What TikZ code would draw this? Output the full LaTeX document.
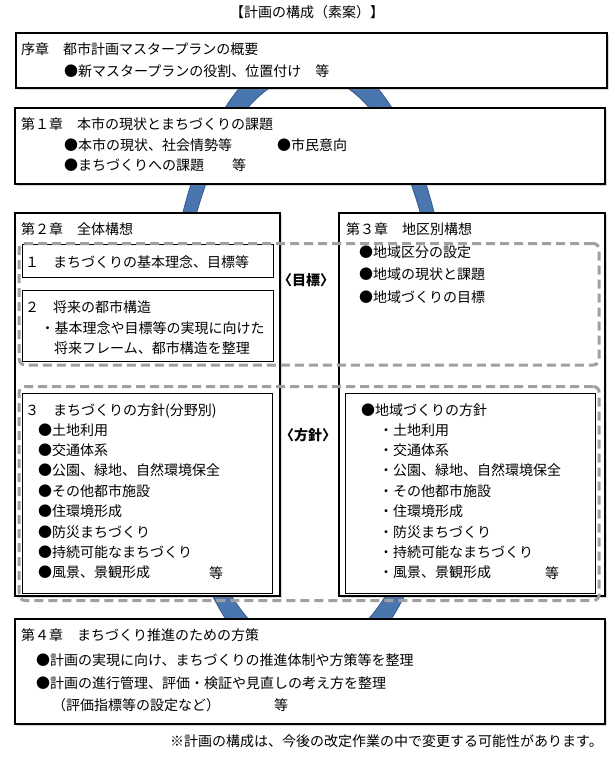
\documentclass[tikz,border=0pt]{standalone}
\usepackage{fontspec}
\setmainfont{Noto Sans CJK JP}
\usetikzlibrary{positioning}
\usetikzlibrary{shadows}
\definecolor{ringblue}{RGB}{74,118,176}
\definecolor{ringedge}{RGB}{52,88,138}
\definecolor{framegray}{RGB}{160,160,160}
\tikzset {
  % chapter frame with a soft shadow
  chapter box/.style = {
    draw = black,
    line width = 1.6pt,
    fill = white,
    rectangle,
    anchor = north west,
    inner sep = 0,
    drop shadow = {shadow xshift = 2pt, shadow yshift = -2pt, opacity = .3}
  },
  % box inside a chapter
  inner box/.style = {
    draw = black,
    line width = 1pt,
    fill = white,
    rectangle,
    anchor = north west,
    inner sep = 0
  },
  % grey dashed frame over both columns
  dashed band/.style = {
    draw = framegray,
    line width = 3pt,
    dash pattern = on 9pt off 5pt,
    rounded corners = 6pt,
    rectangle,
    anchor = north west,
    inner sep = 0
  },
  % one line of text
  txt/.style = {
    anchor = west,
    inner sep = 0,
    text height = 12pt,
    text depth = 2pt,
    font = \fontsize{14pt}{17pt}\selectfont
  },
  % label between the columns
  tag/.style = {
    txt,
    anchor = center,
    font = \fontsize{14pt}{17pt}\selectfont\bfseries
  },
  node distance = 20.4pt
}

\begin{document}
\begin{tikzpicture}[x=1pt, y=-1pt]
    \useasboundingbox (0,0) rectangle (614,760);
    \fill[white] (0,0) rectangle (614,760);

    % the cycle ring behind the chapters
    \path[draw = ringedge, fill = ringblue, line width = 0.8pt, even odd rule]
    (308.5,363) ellipse [x radius = 143pt, y radius = 314pt]
    (308.5,363) ellipse [x radius = 131pt, y radius = 288pt];

    \node[txt, anchor=center] (title) at (307,13) {【計画の構成（素案）】};

    \node[chapter box, minimum width=591pt, minimum height=55pt] (intro) at (15,32) {};
    \node[chapter box, minimum width=590pt, minimum height=76pt] (now) at (14,107) {};
    \node[chapter box, minimum width=265pt, minimum height=383pt] (whole) at (14,212) {};
    \node[chapter box, minimum width=266pt, minimum height=383pt] (area) at (338,212) {};
    \node[chapter box, minimum width=590pt, minimum height=105pt] (act) at (14,618) {};

    \node[inner box, minimum width=251pt, minimum height=33pt] (idea) at (21.7,244) {};
    \node[inner box, minimum width=251pt, minimum height=71pt] (frame) at (21.7,290) {};
    \node[inner box, minimum width=250pt, minimum height=200pt] (policy) at (21.7,393) {};
    \node[inner box, minimum width=249.5pt, minimum height=200pt] (district) at (345,393) {};

    \node[dashed band, minimum width=580pt, minimum height=121.5pt] (goal-band) at (17.7,242) {};
    \node[dashed band, minimum width=580pt, minimum height=214pt] (policy-band) at (17.7,385) {};

    \node[txt] (intro-head) at (21,50) {序章　都市計画マスタープランの概要};
    \node[txt] (intro-role) at (64,71) {●新マスタープランの役割、位置付け　等};

    \node[txt] (now-head) at (21,124) {第１章　本市の現状とまちづくりの課題};
    \node[txt] (now-state) at (64,145) {●本市の現状、社会情勢等};
    \node[txt] (now-voice) at (277,145) {●市民意向};
    \node[txt] (now-issue) at (64,165) {●まちづくりへの課題　　等};

    \node[txt] (whole-head) at (21,229) {第２章　全体構想};
    \node[txt] (idea-text) at (25,262) {１　まちづくりの基本理念、目標等};
    \node[txt] (frame-head) at (25,307) {２　将来の都市構造};
    \node[txt] (frame-aim) at (40.5,328) {・基本理念や目標等の実現に向けた};
    \node[txt] (frame-sum) at (54,348) {将来フレーム、都市構造を整理};

    \node[tag] (goal-tag) at (306,280) {〈目標〉};
    \node[tag] (policy-tag) at (308,435) {〈方針〉};

    \node[txt] (area-head) at (346,229) {第３章　地区別構想};
    \node[txt] (area-split) at (359,252) {●地域区分の設定};
    \node[txt] (area-state) [below=22.5pt of area-split.west, anchor=west] {●地域の現状と課題};
    \node[txt] (area-goal) [below=22.5pt of area-state.west, anchor=west] {●地域づくりの目標};

    \node[txt] (policy-head) at (25,410) {３　まちづくりの方針(分野別)};
    \node[txt] (policy-land) at (38,430) {●土地利用};
    \node[txt] (policy-traffic) [below=of policy-land.west, anchor=west] {●交通体系};
    \node[txt] (policy-park) [below=of policy-traffic.west, anchor=west] {●公園、緑地、自然環境保全};
    \node[txt] (policy-facility) [below=of policy-park.west, anchor=west] {●その他都市施設};
    \node[txt] (policy-living) [below=of policy-facility.west, anchor=west] {●住環境形成};
    \node[txt] (policy-safety) [below=of policy-living.west, anchor=west] {●防災まちづくり};
    \node[txt] (policy-lasting) [below=of policy-safety.west, anchor=west] {●持続可能なまちづくり};
    \node[txt] (policy-scene) [below=of policy-lasting.west, anchor=west] {●風景、景観形成};
    \node[txt] (policy-etc) at (209,573) {等};

    \node[txt] (district-head) at (361,410) {●地域づくりの方針};
    \node[txt] (district-land) at (379,430) {・土地利用};
    \node[txt] (district-traffic) [below=of district-land.west, anchor=west] {・交通体系};
    \node[txt] (district-park) [below=of district-traffic.west, anchor=west] {・公園、緑地、自然環境保全};
    \node[txt] (district-facility) [below=of district-park.west, anchor=west] {・その他都市施設};
    \node[txt] (district-living) [below=of district-facility.west, anchor=west] {・住環境形成};
    \node[txt] (district-safety) [below=of district-living.west, anchor=west] {・防災まちづくり};
    \node[txt] (district-lasting) [below=of district-safety.west, anchor=west] {・持続可能なまちづくり};
    \node[txt] (district-scene) [below=of district-lasting.west, anchor=west] {・風景、景観形成};
    \node[txt] (district-etc) at (545,573) {等};

    \node[txt] (act-head) at (21,635) {第４章　まちづくり推進のための方策};
    \node[txt] (act-system) at (36,660) {●計画の実現に向け、まちづくりの推進体制や方策等を整理};
    \node[txt] (act-manage) at (36,683) {●計画の進行管理、評価・検証や見直しの考え方を整理};
    \node[txt] (act-index) at (52,705) {（評価指標等の設定など）};
    \node[txt] (act-etc) at (274,705) {等};

    \node[txt, anchor=east] (note) at (603,741) {※計画の構成は、今後の改定作業の中で変更する可能性があります。};
  \end{tikzpicture}
\end{document}
